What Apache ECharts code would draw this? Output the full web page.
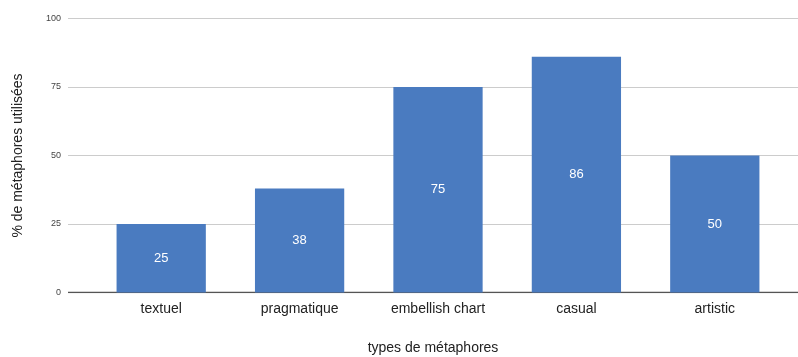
<!DOCTYPE html>
<html>
<head>
<meta charset="utf-8">
<script src="https://cdn.jsdelivr.net/npm/echarts@6/dist/echarts.min.js"></script>
<style>
  html, body { margin: 0; padding: 0; background: #fff; }
  #container { width: 798px; height: 357px; }
</style>
</head>
<body>
<div id="container"></div>
<script>
let chart = echarts.init(document.getElementById('container'));

var categories = ['textuel', 'pragmatique', 'embellish chart', 'casual', 'artistic'];
var values = [25, 38, 75, 86, 50];
var yTicks = [0, 25, 50, 75, 100];

var font = 'Liberation Sans, Arial, sans-serif';

var option = {
    animation: false,
    grid: [
        // lines grid (full width)
        { left: 68, right: 0, top: 18.5, bottom: 64.5, outerBoundsMode: 'none', containLabel: false },
        // bars grid
        { left: 92, right: 14, top: 18.5, bottom: 64.5, outerBoundsMode: 'none', containLabel: false },
    ],
    xAxis: [
        {
            gridIndex: 0,
            type: 'value',
            min: 0,
            max: 1,
            axisLine: { show: false },
            axisTick: { show: false },
            axisLabel: { show: false },
            splitLine: { show: false },
            name: 'types de métaphores',
            nameLocation: 'middle',
            nameGap: 49,
            nameTextStyle: { fontFamily: font, fontSize: 14, color: '#222' },
        },
        {
            gridIndex: 1,
            type: 'category',
            data: categories,
            axisLine: { show: false },
            axisTick: { show: false },
            axisLabel: { fontFamily: font, fontSize: 14, color: '#222', margin: 10 },
        },
    ],
    yAxis: [
        {
            gridIndex: 0,
            type: 'value',
            min: 0,
            max: 100,
            interval: 25,
            axisLine: { show: false },
            axisTick: { show: false },
            axisLabel: { fontFamily: font, fontSize: 9, color: '#444', margin: 7 },
            splitLine: { lineStyle: { color: '#cccccc', width: 1 } },
            name: '% de métaphores utilisées',
            nameLocation: 'middle',
            nameGap: 43,
            nameRotate: 90,
            nameTextStyle: { fontFamily: font, fontSize: 14, color: '#222' },
        },
        {
            gridIndex: 1,
            type: 'value',
            min: 0,
            max: 100,
            interval: 25,
            show: false,
        },
    ],
    series: [
        {
            // baseline
            type: 'line',
            xAxisIndex: 0,
            yAxisIndex: 0,
            data: [[0, 0], [1, 0]],
            symbol: 'none',
            silent: true,
            lineStyle: { color: '#555', width: 1.5 },
            z: 1,
        },
        {
            type: 'bar',
            xAxisIndex: 1,
            yAxisIndex: 1,
            data: values,
            barWidth: '64.5%',
            itemStyle: { color: '#4a7bc0' },
            label: {
                show: true,
                position: 'inside',
                color: '#fff',
                fontFamily: font,
                fontSize: 13,
            },
            z: 2,
        },
    ],
};

chart.setOption(option);
</script>
</body>
</html>
